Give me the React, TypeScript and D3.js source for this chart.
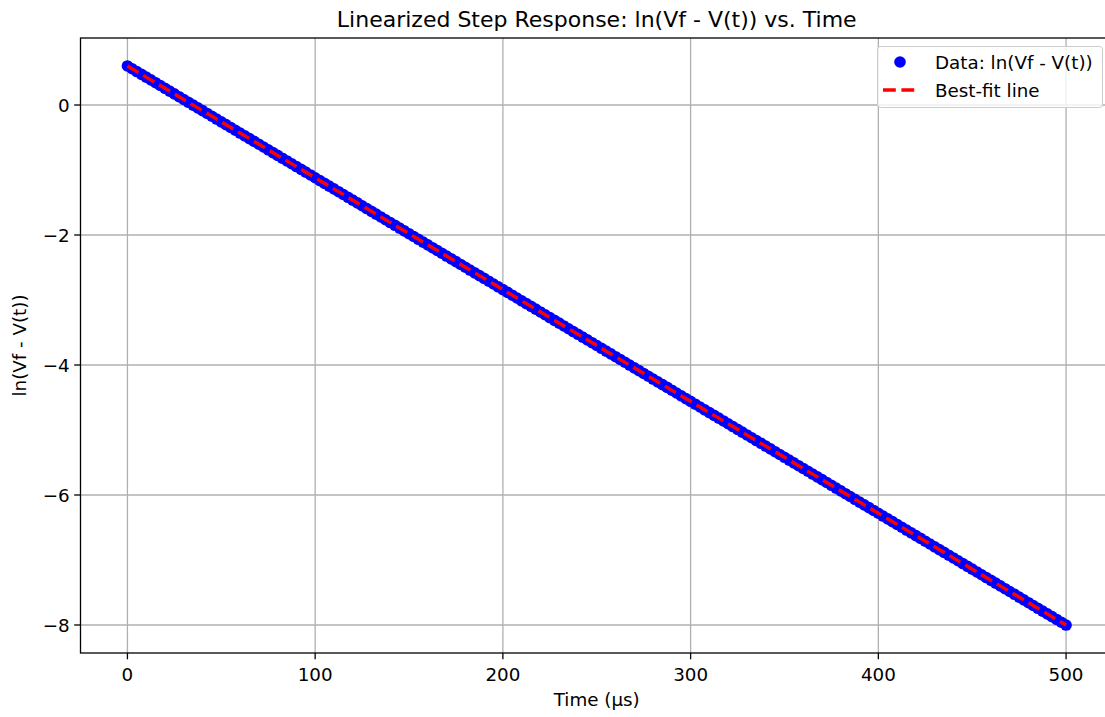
import React from "react";
import * as d3 from "d3";

const timeUs: number[] = [
  0, 2.5, 5, 7.5, 10, 12.5, 15, 17.5, 20, 22.5,
  25, 27.5, 30, 32.5, 35, 37.5, 40, 42.5, 45, 47.5,
  50, 52.5, 55, 57.5, 60, 62.5, 65, 67.5, 70, 72.5,
  75, 77.5, 80, 82.5, 85, 87.5, 90, 92.5, 95, 97.5,
  100, 102.5, 105, 107.5, 110, 112.5, 115, 117.5, 120, 122.5,
  125, 127.5, 130, 132.5, 135, 137.5, 140, 142.5, 145, 147.5,
  150, 152.5, 155, 157.5, 160, 162.5, 165, 167.5, 170, 172.5,
  175, 177.5, 180, 182.5, 185, 187.5, 190, 192.5, 195, 197.5,
  200, 202.5, 205, 207.5, 210, 212.5, 215, 217.5, 220, 222.5,
  225, 227.5, 230, 232.5, 235, 237.5, 240, 242.5, 245, 247.5,
  250, 252.5, 255, 257.5, 260, 262.5, 265, 267.5, 270, 272.5,
  275, 277.5, 280, 282.5, 285, 287.5, 290, 292.5, 295, 297.5,
  300, 302.5, 305, 307.5, 310, 312.5, 315, 317.5, 320, 322.5,
  325, 327.5, 330, 332.5, 335, 337.5, 340, 342.5, 345, 347.5,
  350, 352.5, 355, 357.5, 360, 362.5, 365, 367.5, 370, 372.5,
  375, 377.5, 380, 382.5, 385, 387.5, 390, 392.5, 395, 397.5,
  400, 402.5, 405, 407.5, 410, 412.5, 415, 417.5, 420, 422.5,
  425, 427.5, 430, 432.5, 435, 437.5, 440, 442.5, 445, 447.5,
  450, 452.5, 455, 457.5, 460, 462.5, 465, 467.5, 470, 472.5,
  475, 477.5, 480, 482.5, 485, 487.5, 490, 492.5, 495, 497.5,
  500,
];

const lnValues: number[] = [
  0.601, 0.558, 0.515, 0.472, 0.429, 0.386, 0.343, 0.3, 0.257, 0.214,
  0.171, 0.128, 0.085, 0.042, -0.001, -0.044, -0.087, -0.13, -0.173, -0.216,
  -0.259, -0.302, -0.345, -0.388, -0.431, -0.474, -0.517, -0.56, -0.603, -0.646,
  -0.689, -0.732, -0.775, -0.818, -0.861, -0.904, -0.947, -0.99, -1.033, -1.076,
  -1.119, -1.162, -1.206, -1.248, -1.291, -1.334, -1.377, -1.42, -1.463, -1.506,
  -1.55, -1.593, -1.636, -1.679, -1.722, -1.765, -1.808, -1.851, -1.894, -1.937,
  -1.98, -2.023, -2.066, -2.109, -2.152, -2.195, -2.238, -2.281, -2.324, -2.367,
  -2.41, -2.453, -2.496, -2.539, -2.582, -2.625, -2.668, -2.711, -2.754, -2.797,
  -2.84, -2.883, -2.926, -2.969, -3.012, -3.055, -3.098, -3.141, -3.184, -3.227,
  -3.27, -3.313, -3.356, -3.399, -3.442, -3.485, -3.528, -3.571, -3.614, -3.657,
  -3.7, -3.743, -3.786, -3.829, -3.872, -3.915, -3.958, -4.001, -4.044, -4.087,
  -4.13, -4.173, -4.216, -4.259, -4.302, -4.345, -4.388, -4.431, -4.474, -4.517,
  -4.56, -4.603, -4.646, -4.689, -4.732, -4.775, -4.818, -4.861, -4.904, -4.947,
  -4.99, -5.033, -5.076, -5.119, -5.162, -5.205, -5.248, -5.291, -5.334, -5.377,
  -5.42, -5.463, -5.506, -5.549, -5.592, -5.635, -5.678, -5.721, -5.764, -5.807,
  -5.851, -5.894, -5.937, -5.98, -6.023, -6.066, -6.109, -6.152, -6.195, -6.238,
  -6.281, -6.324, -6.367, -6.41, -6.453, -6.496, -6.539, -6.582, -6.625, -6.668,
  -6.711, -6.754, -6.797, -6.84, -6.883, -6.926, -6.969, -7.012, -7.055, -7.098,
  -7.141, -7.184, -7.227, -7.27, -7.313, -7.356, -7.399, -7.442, -7.485, -7.528,
  -7.571, -7.614, -7.657, -7.7, -7.743, -7.786, -7.829, -7.872, -7.915, -7.958,
  -8.001,
];

const fitIntercept = 0.601;
const fitSlope = -0.017204;
const fitTimes: number[] = [0, 500];

const xTicks: number[] = [0, 100, 200, 300, 400, 500];
const yTicks: number[] = [0, -2, -4, -6, -8];

const title = "Linearized Step Response: ln(Vf - V(t)) vs. Time";
const xLabel = "Time (µs)";
const yLabel = "ln(Vf - V(t))";
const legendLabels = ["Data: ln(Vf - V(t))", "Best-fit line"];

const W = 1105;
const H = 717;
const FONT = "'DejaVu Sans', sans-serif";
const FS = 18.3;
const TITLE_FS = 22;

export default function App() {
  const left = 80.5;
  const right = 1113;
  const top = 38;
  const bottom = 653;

  const x = d3.scaleLinear().domain([-25, 525]).range([left, right]);
  const y = d3.scaleLinear().domain([1.031, -8.431]).range([top, bottom]);
  const fmt = d3.format("d");
  const yfmt = (v: number) => (v < 0 ? "\u2212" + Math.abs(v) : String(v));

  const line = d3
    .line<number>()
    .x((t) => x(t))
    .y((t) => y(fitIntercept + fitSlope * t));

  const r = 5.8;
  const n = Math.min(timeUs.length, lnValues.length);
  const pts = timeUs.slice(0, n).map((t, i) => [t, lnValues[i]] as [number, number]);
  const tickLen = 6.3;

  return (
    <svg
      width={W}
      height={H}
      style={{ position: "absolute", left: 0, top: 0, background: "#fff" }}
      fontFamily={FONT}
    >
      <rect x={0} y={0} width={W} height={H} fill="#fff" />
      <defs>
        <clipPath id="plotclip">
          <rect x={left} y={top} width={right - left} height={bottom - top} />
        </clipPath>
      </defs>
      {xTicks.map((t) => (
        <line key={"gx" + t} x1={x(t)} x2={x(t)} y1={top} y2={bottom} stroke="#b0b0b0" strokeWidth={1.3} />
      ))}
      {yTicks.map((t) => (
        <line key={"gy" + t} x1={left} x2={right} y1={y(t)} y2={y(t)} stroke="#b0b0b0" strokeWidth={1.3} />
      ))}
      <g clipPath="url(#plotclip)">
        {pts.map(([t, v], i) => (
          <circle key={"p" + i} cx={x(t)} cy={y(v)} r={r} fill="#0000ff" />
        ))}
        <path
          d={line(fitTimes) || ""}
          fill="none"
          stroke="#ff0000"
          strokeWidth={3.4}
          strokeDasharray="12.8,5.6"
        />
      </g>
      <rect x={left} y={top} width={right - left} height={bottom - top} fill="none" stroke="#000" strokeWidth={1.3} />
      {xTicks.map((t) => (
        <g key={"xt" + t}>
          <line x1={x(t)} x2={x(t)} y1={bottom} y2={bottom + tickLen} stroke="#000" strokeWidth={1.3} />
          <text x={x(t)} y={681} textAnchor="middle" fontSize={FS} fill="#000">
            {fmt(t)}
          </text>
        </g>
      ))}
      {yTicks.map((t) => (
        <g key={"yt" + t}>
          <line x1={left - tickLen} x2={left} y1={y(t)} y2={y(t)} stroke="#000" strokeWidth={1.3} />
          <text x={left - tickLen - 4.5} y={y(t)} dy="0.36em" textAnchor="end" fontSize={FS} fill="#000">
            {yfmt(t)}
          </text>
        </g>
      ))}
      <text x={(left + right) / 2} y={706} textAnchor="middle" fontSize={FS} fill="#000">
        {xLabel}
      </text>
      <text
        transform={`translate(26, ${(top + bottom) / 2}) rotate(-90)`}
        textAnchor="middle"
        fontSize={FS}
        fill="#000"
      >
        {yLabel}
      </text>
      <text x={(left + right) / 2} y={27} textAnchor="middle" fontSize={TITLE_FS} fill="#000">
        {title}
      </text>
      <g>
        <rect x={877.5} y={46.5} width={225} height={61} rx={3} ry={3} fill="#fff" fillOpacity={0.8} stroke="#cccccc" strokeWidth={1} />
        <circle cx={900} cy={62} r={r} fill="#0000ff" />
        <text x={935} y={62} dy="0.36em" fontSize={FS} fill="#000">
          {legendLabels[0]}
        </text>
        <line x1={883} x2={918} y1={90} y2={90} stroke="#ff0000" strokeWidth={3.4} strokeDasharray="12.8,5.6" />
        <text x={935} y={90} dy="0.36em" fontSize={FS} fill="#000">
          {legendLabels[1]}
        </text>
      </g>
    </svg>
  );
}
